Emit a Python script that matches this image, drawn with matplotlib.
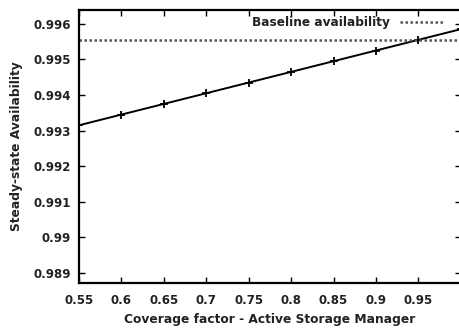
import numpy as np
import matplotlib.pyplot as plt

plt.rcParams['font.family'] = ['DejaVu Sans']
plt.rcParams['font.weight'] = 'bold'

# coverage factor vs steady-state availability
coverage = [0.55, 0.6, 0.65, 0.7, 0.75, 0.8, 0.85, 0.9, 0.95, 1.0]
availability = [0.99315, 0.99345, 0.99375, 0.99405, 0.99435,
                0.99465, 0.99495, 0.99525, 0.99555, 0.99585]
baseline = 0.99555

xticks = [0.55, 0.6, 0.65, 0.7, 0.75, 0.8, 0.85, 0.9, 0.95]
yticks = [0.989, 0.99, 0.991, 0.992, 0.993, 0.994, 0.995, 0.996]

fig = plt.figure(figsize=(4.59, 3.31), dpi=100)
ax = fig.add_axes([0.172, 0.145, 0.832, 0.825])

ax.plot(coverage, availability, color='black', lw=1.4, marker='+',
        markersize=6, markeredgewidth=1.3)
ax.axhline(baseline, color='#555555', lw=1.8, linestyle=(0, (1, 1)),
           label='Baseline availability')

ax.set_xlim(0.55, 1.0)
ax.set_ylim(0.98872, 0.99639)
ax.set_xticks(xticks)
ax.set_xticklabels([f'{t:g}' for t in xticks])
ax.set_yticks(yticks)
ax.set_yticklabels([f'{t:g}' for t in yticks])
ax.tick_params(direction='in', length=4, width=1, top=True, right=True,
               labelsize=8.5, labelcolor='#222222')
ax.tick_params(axis='x', pad=8)
ax.tick_params(axis='y', pad=6)
for s in ax.spines.values():
    s.set_linewidth(1.6)

ax.set_xlabel('Coverage factor - Active Storage Manager', fontsize=8.8,
              fontweight='bold', labelpad=4, color='#222222')
ax.set_ylabel('Steady-state Availability', fontsize=8.8, fontweight='bold',
              labelpad=7, color='#222222')

leg = ax.legend(loc='upper right', frameon=False, markerfirst=False,
                fontsize=8.7, handlelength=3.6, borderaxespad=0.1,
                bbox_to_anchor=(0.97, 1.0))
for t in leg.get_texts():
    t.set_color('#222222')

fig.savefig('out.png', dpi=100)
